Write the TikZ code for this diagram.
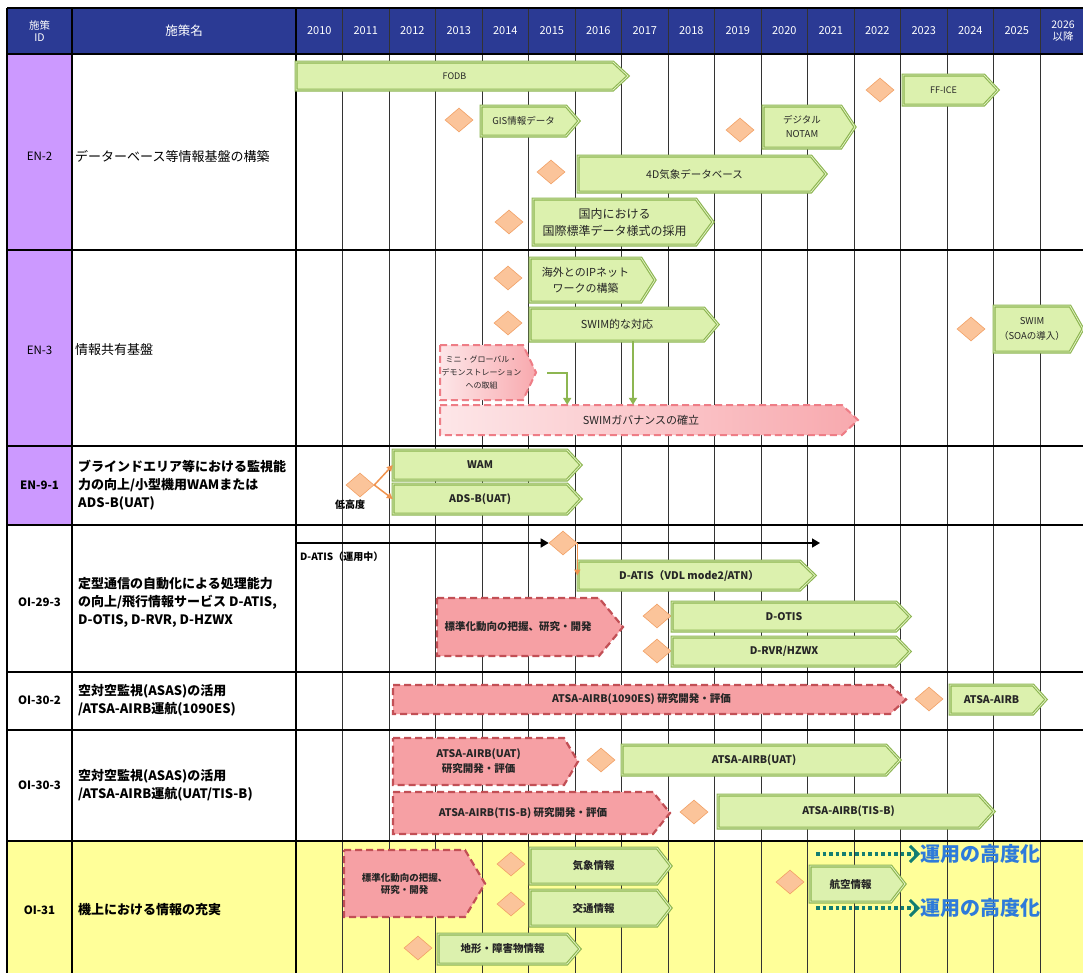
\documentclass[tikz,border=0pt]{standalone}
\usepackage{fontspec}
\setmainfont{Noto Sans CJK JP}
\usetikzlibrary{arrows.meta,shapes.geometric}

\definecolor{hdrblue}{HTML}{2B3A94}
\definecolor{idpurple}{HTML}{CC99FF}
\definecolor{rowyellow}{HTML}{FFFF99}
\definecolor{gfill}{HTML}{DCF1AE}
\definecolor{gline}{HTML}{8DB651}
\definecolor{ginner}{HTML}{E8F5CC}
\definecolor{pfill}{HTML}{F6A0A4}
\definecolor{pline}{HTML}{C24F55}
\definecolor{lpleft}{HTML}{FDE6E8}
\definecolor{lpright}{HTML}{F8A9AE}
\definecolor{lpline}{HTML}{EE7D86}
\definecolor{dfill}{HTML}{FBC49A}
\definecolor{dline}{HTML}{F2A065}
\definecolor{oarrow}{HTML}{F0934E}
\definecolor{dotteal}{HTML}{127D72}
\definecolor{opblue}{HTML}{2E7BDA}

\newcommand\fs[2]{\fontsize{#1}{#2}\selectfont}
\newcommand\upf{\fs{10.5}{12}}
\newcommand\lowf{\bfseries\fs{10.5}{12}}

% #1 point length, #2 style, #3 name, #4 x1, #5 y1, #6 x2 (point), #7 y2, #8 font, #9 label
\newcommand{\barbox}[9][14]{%
  \path[#2] (#4,#5) -- ({#6-#1},#5) -- (#6,{(#5+#7)/2}) -- ({#6-#1},#7) -- (#4,#7) -- cycle;
  \node[bartext, font=#8, minimum width={#6-#1-#4}, minimum height={#7-#5}] (#3)
    at ({(#4+#6-#1)/2},{(#5+#7)/2}) {#9};
}

\begin{document}
\begin{tikzpicture}[x=1pt,y=-1pt,
  gbar/.style={fill=gfill, draw=gline, line width=3pt, line join=miter,
    postaction={draw=ginner, line width=0.7pt}},
  pbar/.style={fill=pfill, draw=pline, line width=2.2pt, dash pattern=on 7pt off 4pt},
  lpbar/.style={left color=lpleft, right color=lpright, draw=lpline, line width=2pt,
    dash pattern=on 7pt off 4pt},
  bartext/.style={inner sep=0pt, align=center, text=black!85},
  diam/.style={shape=diamond, fill=dfill, draw=dline, line width=0.6pt,
    minimum width=28pt, minimum height=24pt, inner sep=0pt},
  yearline/.style={draw=black!80, line width=0.8pt},
  mainline/.style={draw=black, line width=1.3pt},
  rowline/.style={draw=black, line width=1.5pt},
  hdr/.style={text=white, font=\fs{11}{12}, align=center, inner sep=0pt},
  idlab/.style={font=\fs{11.5}{13}, inner sep=0pt},
  idlabb/.style={font=\bfseries\fs{11.5}{13}, inner sep=0pt},
  namelab/.style={font=\fs{13}{18}, align=left, inner sep=0pt, anchor=west},
  namelabb/.style={font=\bfseries\fs{13}{18}, align=left, inner sep=0pt, anchor=west},
  smalllab/.style={font=\bfseries\fs{10}{12}, inner sep=0pt},
  garr/.style={draw=gline, line width=2pt, -{Triangle[length=7pt,width=8pt]}},
  oarr/.style={draw=oarrow, line width=1.5pt, -{Triangle[length=6pt,width=6pt]}},
  karr/.style={draw=black, line width=1.6pt, -{Triangle[length=8pt,width=9pt]}},
  tarr/.style={draw=dotteal, line width=3.5pt, dash pattern=on 3.5pt off 3pt,
    -{Straight Barb[length=8pt,width=16pt,line width=3pt]}},
  optext/.style={text=opblue, font=\bfseries\fs{20}{22}, inner sep=0pt, anchor=west}]

\useasboundingbox (0,0) rectangle (1083,972);
\clip (0,0) rectangle (1083,972);

% backgrounds
\fill[white] (0,0) rectangle (1083,972);
\fill[hdrblue] (7,8) rectangle (1100,54);
\fill[idpurple] (7,54) rectangle (72,525);
\fill[rowyellow] (7,841) rectangle (1100,980);

% grid
\foreach \i in {1,...,17} \draw[yearline] ({296+46.5*\i},8) -- ({296+46.5*\i},980);
\draw[mainline] (7,8) -- (7,980);
\draw[mainline] (72,8) -- (72,980);
\draw[mainline] (296,8) -- (296,980);
\foreach \yy in {8,54,250,446,525,672,730,841} \draw[rowline] (7,\yy) -- (1100,\yy);

% header
\node[hdr, font=\fs{10.5}{12}] (hid) at (39.5,31) {施策\\ID};
\node[hdr, font=\fs{12.5}{14}] (hname) at (184,31) {施策名};
\foreach \i in {0,...,15}{%
  \pgfmathtruncatemacro\yr{2010+\i}
  \node[hdr] (y\yr) at ({296+46.5*\i+23.25},31) {\yr};
}
\node[hdr, font=\fs{10.5}{12}] (y2026) at (1063,31) {2026\\以降};

% row IDs
\node[idlab] (id1) at (39.5,156) {EN-2};
\node[idlab] (id2) at (39.5,350) {EN-3};
\node[idlabb] (id3) at (39.5,485) {EN-9-1};
\node[idlabb] (id4) at (39.5,602) {OI-29-3};
\node[idlabb] (id5) at (39.5,700) {OI-30-2};
\node[idlabb] (id6) at (39.5,785) {OI-30-3};
\node[idlabb] (id7) at (39.5,910) {OI-31};

% measure names
\node[namelab] (n1) at (75,156) {データーベース等情報基盤の構築};
\node[namelab] (n2) at (75,350) {情報共有基盤};
\node[namelabb] (n3) at (78,485) {ブラインドエリア等における監視能\\力の向上/小型機用WAMまたは\\ADS-B(UAT)};
\node[namelabb] (n4) at (78,602) {定型通信の自動化による処理能力\\の向上/飛行情報サービス D-ATIS,\\D-OTIS, D-RVR, D-HZWX};
\node[namelabb] (n5) at (78,700) {空対空監視(ASAS)の活用\\/ATSA-AIRB運航(1090ES)};
\node[namelabb] (n6) at (78,785) {空対空監視(ASAS)の活用\\/ATSA-AIRB運航(UAT/TIS-B)};
\node[namelabb] (n7) at (78,910) {機上における情報の充実};

% EN-2
\barbox[15]{gbar}{fodb}{296}{62}{628}{90}{\fs{9}{10}}{FODB}
\node[diam] (dffice) at (880,90) {};
\barbox[14]{gbar}{ffice}{903}{75}{998}{105}{\fs{9}{10}}{FF-ICE}
\node[diam] (dgis) at (459,120) {};
\barbox[13]{gbar}{gis}{481}{106}{579}{136}{\fs{9.5}{11}}{GIS情報データ}
\node[diam] (dnotam) at (740,130) {};
\barbox[14]{gbar}{notam}{763}{106}{855}{148}{\fs{9.5}{14}}{デジタル\\NOTAM}
\node[diam] (dfourd) at (551,172) {};
\barbox[15]{gbar}{fourd}{578}{156}{826}{192}{\upf}{4D気象データベース}
\node[diam] (dkokunai) at (509,222) {};
\barbox[17]{gbar}{kokunai}{533}{199}{713}{245}{\fs{12}{17}}{国内における\\国際標準データ様式の採用}

% EN-3
\node[diam] (dipnet) at (508,278) {};
\barbox[14]{gbar}{ipnet}{530}{258}{655}{302}{\fs{11}{16}}{海外とのIPネット\\ワークの構築}
\node[diam] (dswimresp) at (508,323) {};
\barbox[14]{gbar}{swimresp}{530}{308}{718}{341}{\fs{11}{13}}{SWIM的な対応}
\node[diam] (dswimsoa) at (971,329) {};
\barbox[13]{gbar}{swimsoa}{994}{306}{1083}{352}{\fs{9.5}{15}}{SWIM\\（SOAの導入）}
\barbox[13]{lpbar}{mini}{440}{345}{536}{400}{\fs{8}{13}}{ミニ・グローバル・\\デモンストレーション\\への取組}
\barbox[16]{lpbar}{gov}{440}{405}{858}{435}{\fs{11}{13}}{SWIMガバナンスの確立}
\draw[garr] ([xshift=24pt]mini.east) -- ++(20,0) coordinate (mbend) -- (mbend |- gov.north);
\draw[garr] ([xshift=16pt]swimresp.south) coordinate (sr0) -- (sr0 |- gov.north);

% EN-9-1
\barbox[14]{gbar}{wam}{393}{450}{581}{480}{\lowf}{WAM}
\barbox[14]{gbar}{ads}{393}{484}{581}{514}{\lowf}{ADS-B(UAT)}
\node[diam] (d91) at (360,485) {};
\draw[oarr] (d91.east) -- (wam.west);
\draw[oarr] (d91.east) -- (ads.west);
\node[smalllab] (lowalt) at (350,505) {低高度};

% OI-29-3
\coordinate (atis0) at (296,543);
\node[diam] (dA) at (563,543) {};
\coordinate (atis1) at (820,543);
\draw[karr] (atis0) -- (dA.west);
\draw[karr] (dA.east) -- (atis1);
\node[smalllab, anchor=west] (atisop) at (300,557) {D-ATIS（運用中）};
\barbox[15]{gbar}{datis}{578}{561}{815}{590}{\lowf}{D-ATIS（VDL mode2/ATN）}
\draw[oarr] (dA.east) -- (dA.east |- datis.west);
\barbox[24]{pbar}{std1}{437}{598}{623}{656}{\lowf}{標準化動向の把握、研究・開発}
\node[diam] (dotisd) at (657,616) {};
\barbox[14]{gbar}{dotis}{672}{602}{910}{631}{\lowf}{D-OTIS}
\node[diam] (drvrd) at (657,651) {};
\barbox[14]{gbar}{drvr}{672}{637}{910}{666}{\lowf}{D-RVR/HZWX}

% OI-30-2
\barbox[16]{pbar}{airb1090}{393}{685}{906}{714}{\lowf}{ATSA-AIRB(1090ES)\ 研究開発・評価}
\node[diam] (dairb) at (929,699) {};
\barbox[13]{gbar}{airb}{950}{685}{1046}{714}{\lowf}{ATSA-AIRB}

% OI-30-3
\barbox[14]{pbar}{uatrd}{393}{738}{578}{785}{\bfseries\fs{10.5}{15}}{ATSA-AIRB(UAT)\\研究開発・評価}
\node[diam] (duat) at (601,760) {};
\barbox[14]{gbar}{uat}{622}{745}{900}{775}{\lowf}{ATSA-AIRB(UAT)}
\barbox[17]{pbar}{tisrd}{393}{792}{670}{834}{\lowf}{ATSA-AIRB(TIS-B)\ 研究開発・評価}
\node[diam] (dtis) at (694,812) {};
\barbox[15]{gbar}{tis}{718}{795}{994}{828}{\lowf}{ATSA-AIRB(TIS-B)}

% OI-31
\barbox[20]{pbar}{std2}{344}{850}{485}{917}{\bfseries\fs{9.5}{12}}{標準化動向の把握、\\研究・開発}
\node[diam] (dkisho) at (511,864) {};
\barbox[14]{gbar}{kisho}{530}{848}{671}{884}{\lowf}{気象情報}
\node[diam] (dkotsu) at (511,904) {};
\barbox[14]{gbar}{kotsu}{530}{890}{671}{926}{\lowf}{交通情報}
\node[diam] (dchikei) at (418,948) {};
\barbox[13]{gbar}{chikei}{438}{934}{580}{964}{\lowf}{地形・障害物情報}
\node[diam] (dkoku) at (790,882) {};
\barbox[14]{gbar}{koku}{810}{866}{905}{902}{\lowf}{航空情報}
\coordinate (op1s) at (816,854);
\coordinate (op2s) at (816,908);
\node[optext] (op1) at (920,854) {運用の高度化};
\node[optext] (op2) at (920,908) {運用の高度化};
\draw[tarr] (op1s) -- (op1.west);
\draw[tarr] (op2s) -- (op2.west);

\end{tikzpicture}
\end{document}
